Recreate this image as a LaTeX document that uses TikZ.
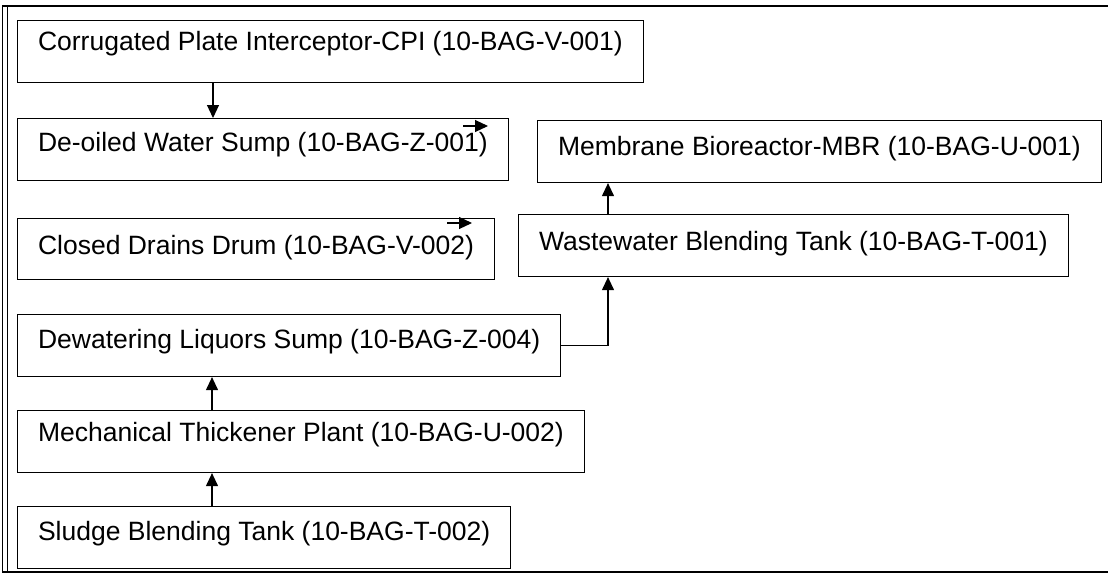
\documentclass[tikz,border=0pt]{standalone}
\usepackage{fontspec}
\setmainfont{Liberation Sans}
\usepackage{tikz}
\usetikzlibrary{arrows.meta}

\begin{document}
\begin{tikzpicture}[x=1pt,y=-1pt,>={Triangle[length=13pt,width=12pt]},
  box/.style={draw,line width=1.1pt,anchor=north west,inner xsep=20.5pt,inner ysep=0pt,
    text height=31pt,text depth=31pt,font=\fontsize{26.5}{30}\selectfont},
  flow/.style={->,line width=1.1pt}]
\useasboundingbox (0,0) rectangle (1108,574);
% frame
\draw[line width=2.5pt](2,6)--(1108,6);
\draw[line width=1.3pt](2.5,5)--(2.5,573);
\draw[line width=1.3pt](7.5,6)--(7.5,572);
\draw[line width=1.3pt](2,572)--(1108,572);
% units
\node[box,text height=30pt,text depth=32pt](cpi) at (17,20){Corrugated Plate Interceptor-CPI (10-BAG-V-001)};
\node[box,text height=33pt,text depth=29pt](deoil) at (17,118){De-oiled Water Sump (10-BAG-Z-001)};
\node[box,text height=35pt,text depth=27pt](mbr) at (537,120){Membrane Bioreactor-MBR (10-BAG-U-001)};
\node[box,text height=36pt,text depth=25pt](cdd) at (17,218){Closed Drains Drum (10-BAG-V-002)};
\node[box,text height=36pt,text depth=26pt](wbt) at (518,214){Wastewater Blending Tank (10-BAG-T-001)};
\node[box,text height=34pt,text depth=28pt](dls) at (17,314){Dewatering Liquors Sump (10-BAG-Z-004)};
\node[box](mtp) at (17,410){Mechanical Thickener Plant (10-BAG-U-002)};
\node[box,text height=34pt,text depth=28pt](sbt) at (17,506){Sludge Blending Tank (10-BAG-T-002)};
% flows
\coordinate(c1) at (213,0);
\coordinate(c2) at (608,0);
\coordinate(c3) at (212,0);
\draw[flow](c1|-cpi.south)--(c1|-deoil.north);
\draw[flow](c2|-wbt.north)--(c2|-mbr.south);
\draw[flow](dls.east)-|(c2|-wbt.south);
\draw[flow](c3|-mtp.north)--(c3|-dls.south);
\draw[flow](c3|-sbt.north)--(c3|-mtp.south);
% stray arrows
\coordinate(d1) at (463,126);
\coordinate(d2) at (488,126);
\coordinate(e1) at (447,223);
\coordinate(e2) at (472,223);
\draw[flow](d1)--(d2);
\draw[flow](e1)--(e2);
\end{tikzpicture}
\end{document}
